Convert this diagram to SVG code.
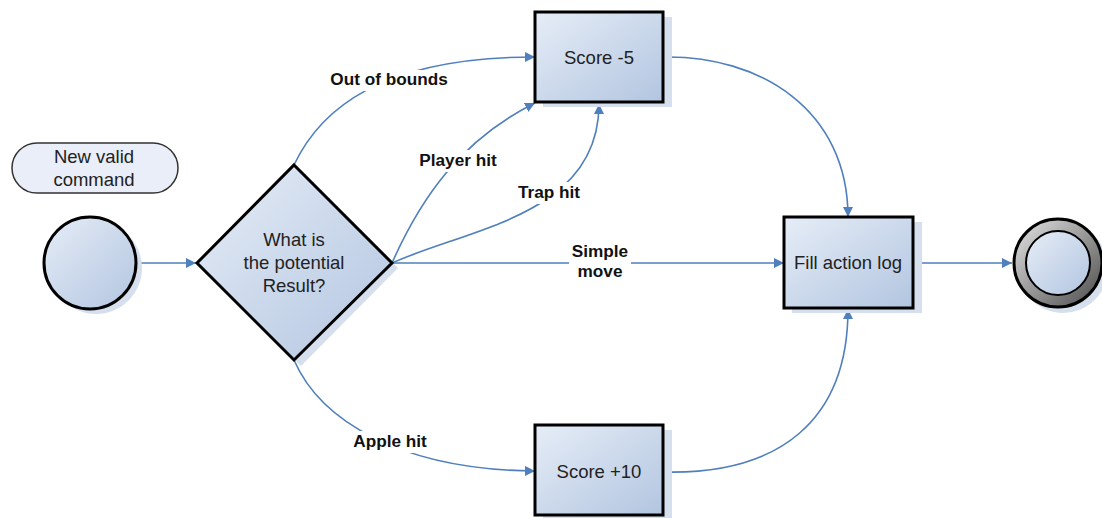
<svg xmlns="http://www.w3.org/2000/svg" width="1102" height="518" viewBox="0 0 1102 518">
  <defs>
    <linearGradient id="nodeFill" x1="0" y1="0" x2="1" y2="1">
      <stop offset="0" stop-color="#e6edf7"/>
      <stop offset="1" stop-color="#b2c5e0"/>
    </linearGradient>
    <linearGradient id="ringFill" x1="0" y1="0" x2="1" y2="1">
      <stop offset="0" stop-color="#e6e6e6"/>
      <stop offset="1" stop-color="#4a4a4a"/>
    </linearGradient>
    <marker id="arrow" viewBox="0 0 10 10" refX="10" refY="5" markerWidth="10" markerHeight="10" markerUnits="userSpaceOnUse" orient="auto">
      <path d="M0,0 L10,5 L0,10 z" fill="#4f7fbd"/>
    </marker>
    <style>
      .shape { fill: url(#nodeFill); stroke: #000; stroke-width: 3; }
      .shadow { fill: #d6dfed; }
      .txt { font-family: "Liberation Sans", Arial, sans-serif; font-size: 18.5px; fill: #222; text-anchor: middle; }
      .lbl { font-family: "Liberation Sans", Arial, sans-serif; font-size: 17.2px; font-weight: bold; fill: #111; text-anchor: middle; }
      .conn { fill: none; stroke: #4f7fbd; stroke-width: 1.6; marker-end: url(#arrow); }
      .gap { fill: #fff; }
    </style>
  </defs>

  <rect width="1102" height="518" fill="#fff"/>

  <!-- connectors -->
  <g id="connectors">
    <path class="conn" d="M137,263 L196,263"/>
    <path class="conn" d="M294,165 C320,110 380,57 535,57"/>
    <path class="conn" d="M392,263 C420,200 460,140 535,103"/>
    <path class="conn" d="M392,263 C470,228 599,215 599,104"/>
    <path class="conn" d="M392,263 L784,263"/>
    <path class="conn" d="M294,360 C320,420 400,470 535,471"/>
    <path class="conn" d="M663,57 C760,55 848,110 848,217"/>
    <path class="conn" d="M663,472 C780,475 848,420 848,309"/>
    <path class="conn" d="M913,263 L1012,263"/>
  </g>

  <!-- connector labels -->
  <g id="labels">
    <rect class="gap" x="328" y="70" width="123" height="21"/>
    <text class="lbl" x="389" y="85">Out of bounds</text>
    <rect class="gap" x="416" y="150" width="84" height="22"/>
    <text class="lbl" x="458" y="166">Player hit</text>
    <rect class="gap" x="514" y="182" width="70" height="22"/>
    <text class="lbl" x="549" y="198">Trap hit</text>
    <rect class="gap" x="569" y="241" width="62" height="41"/>
    <text class="lbl" x="600" y="257">Simple</text>
    <text class="lbl" x="600" y="277">move</text>
    <rect class="gap" x="351" y="431" width="79" height="22"/>
    <text class="lbl" x="390" y="447">Apple hit</text>
  </g>

  <!-- note -->
  <g id="note">
    <rect x="12" y="143" width="166" height="50" rx="25" ry="25" fill="#e9eef8" stroke="#333" stroke-width="1.5"/>
    <text class="txt" x="94" y="163">New valid</text>
    <text class="txt" x="94" y="186">command</text>
  </g>

  <!-- start state -->
  <g id="start">
    <circle class="shadow" cx="96" cy="268" r="46"/>
    <circle class="shape" cx="90" cy="263" r="46"/>
  </g>

  <!-- decision -->
  <g id="decision">
    <polygon class="shadow" points="301,171 398,268 301,366 203,268"/>
    <polygon class="shape" points="294,165 392,263 294,360 197,263"/>
    <text class="txt" x="294" y="246">What is</text>
    <text class="txt" x="294" y="269">the potential</text>
    <text class="txt" x="294" y="292">Result?</text>
  </g>

  <!-- score -5 -->
  <g id="score-minus">
    <rect class="shadow" x="543" y="17" width="129" height="90"/>
    <rect class="shape" x="535" y="12" width="128" height="90"/>
    <text class="txt" x="599" y="64">Score -5</text>
  </g>

  <!-- score +10 -->
  <g id="score-plus">
    <rect class="shadow" x="543" y="430" width="129" height="90"/>
    <rect class="shape" x="535" y="425" width="128" height="90"/>
    <text class="txt" x="599" y="478">Score +10</text>
  </g>

  <!-- fill action log -->
  <g id="fill-log">
    <rect class="shadow" x="792" y="222" width="130" height="91"/>
    <rect class="shape" x="784" y="217" width="129" height="91"/>
    <text class="txt" x="848" y="269">Fill action log</text>
  </g>

  <!-- end state -->
  <g id="end">
    <circle class="shadow" cx="1063" cy="268" r="45"/>
    <circle cx="1058" cy="263" r="44" fill="url(#ringFill)" stroke="#000" stroke-width="3"/>
    <circle cx="1058" cy="263" r="32" fill="url(#nodeFill)" stroke="#000" stroke-width="2"/>
  </g>
</svg>
